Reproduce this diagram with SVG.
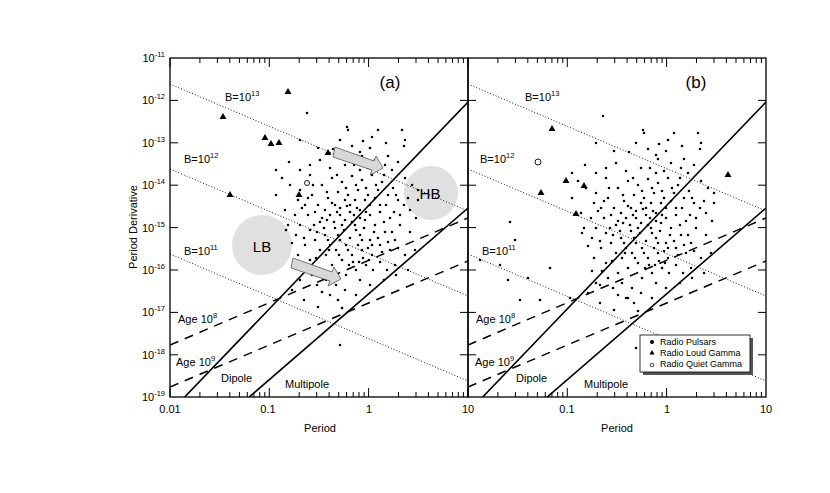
<svg xmlns="http://www.w3.org/2000/svg" xmlns:xlink="http://www.w3.org/1999/xlink" width="830" height="493" viewBox="0 0 830 493">
<style>
text{font-family:"Liberation Sans",Arial,sans-serif;font-size:11px;fill:#000}
.sup{font-size:7.5px}
.frame{fill:none;stroke:#000;stroke-width:1.3}
.dot{fill:none;stroke:#000;stroke-width:2.6;stroke-linecap:round}
.blin{fill:none;stroke:#000;stroke-width:0.9;stroke-dasharray:1,2}
.age{fill:none;stroke:#000;stroke-width:1.5;stroke-dasharray:9,7}
.death{fill:none;stroke:#000;stroke-width:1.6}
.tick{fill:none;stroke:#000;stroke-width:1}
.blob{fill:#e0e0e0}
.arr{fill:#d8d8d8;stroke:#555;stroke-width:0.8}
</style>
<defs>
<clipPath id="cA"><rect x="170" y="58" width="298" height="339"/></clipPath>
<clipPath id="cB"><rect x="468" y="58" width="298" height="339"/></clipPath>
<path id="dec" class="tick" d="M170 397v-9M199.9 397v-5M217.4 397v-5M229.8 397v-5M239.4 397v-5M247.3 397v-5M253.9 397v-5M259.7 397v-5M264.8 397v-5M170 58v9M199.9 58v5M217.4 58v5M229.8 58v5M239.4 58v5M247.3 58v5M253.9 58v5M259.7 58v5M264.8 58v5"/>
<g id="lines">
<path class="blin" d="M170 84L468 211M170 169L468 296M170 254L468 381"/>
<path class="age" d="M170 345L468 218M170 387L468 261"/>
<path class="death" d="M177 405L468 102M240 405L468 208"/>
</g>
<path id="dots" class="dot" d="M307 113h0M348 130h0M333 149h0M340 140h0M318 148h0M347 127h0M378 130h0M402 130h0M405 140h0M404 146h0M388 156h0M362 156h0M352 146h0M363 141h0M370 148h0M360 152h0M375 160h0M385 165h0M392 170h0M360 170h0M345 165h0M330 168h0M320 160h0M310 175h0M300 190h0M298 200h0M290 185h0M282 178h0M276 195h0M285 210h0M295 215h0M305 205h0M312 195h0M322 185h0M332 178h0M342 182h0M352 176h0M362 180h0M372 175h0M382 182h0M393 188h0M405 178h0M412 185h0M418 200h0M410 210h0M398 200h0M388 195h0M378 190h0M368 195h0M358 190h0M348 195h0M338 192h0M328 198h0M318 205h0M308 215h0M300 225h0M310 230h0M320 222h0M330 215h0M340 208h0M350 205h0M360 210h0M370 205h0M380 212h0M390 218h0M400 225h0M410 232h0M395 240h0M385 232h0M375 225h0M365 220h0M355 225h0M345 220h0M335 228h0M325 235h0M315 240h0M305 245h0M298 255h0M310 260h0M320 250h0M330 245h0M340 240h0M350 238h0M360 235h0M370 240h0M380 245h0M390 250h0M372 255h0M362 250h0M352 255h0M342 260h0M332 265h0M322 270h0M312 275h0M326 280h0M336 285h0M346 275h0M356 270h0M366 265h0M380 262h0M395 265h0M405 255h0M415 250h0M338 300h0M322 292h0M342 308h0M318 307h0M340 345h0M355 200h0M365 200h0M375 198h0M345 200h0M335 205h0M325 210h0M315 212h0M302 208h0M296 235h0M292 243h0M288 225h0M304 238h0M314 225h0M324 228h0M334 222h0M344 230h0M354 215h0M364 228h0M374 232h0M384 222h0M394 212h0M404 205h0M416 218h0M346 188h0M356 185h0M366 188h0M376 185h0M386 205h0M396 195h0M366 212h0M356 230h0M346 245h0M336 250h0M326 255h0M316 258h0M306 268h0M328 240h0M338 235h0M348 250h0M358 245h0M368 248h0M378 238h0M388 242h0M398 248h0M353 262h0M363 258h0M373 270h0M360 280h0M345 290h0M330 295h0M317 285h0M300 280h0M296 268h0M308 198h0M313 185h0M327 192h0M337 175h0M354 165h0M368 168h0M384 175h0M398 162h0M289 162h0M276 170h0M286 230h0M292 290h0M304 300h0M356 295h0M370 285h0M384 280h0M396 275h0M408 270h0M340 215h0M350 212h0M360 218h0M370 215h0M380 205h0M332 203h0M322 218h0M342 225h0M352 222h0M362 240h0M372 245h0M382 252h0M392 232h0M400 215h0M408 198h0M418 190h0M300 170h0M310 165h0M372 137h0M386 143h0M300 140h0M357 208h0M347 206h0M337 212h0M327 220h0M317 232h0M329 250h0M339 255h0M349 265h0M359 262h0M369 260h0M387 270h0"/>
</defs>
<rect width="830" height="493" fill="#fff"/>
<g id="panelA">
<circle class="blob" cx="262" cy="245" r="30"/>
<circle class="blob" cx="431" cy="193" r="27"/>
<text x="262" y="252" text-anchor="middle" style="font-size:15px">LB</text>
<text x="430" y="199" text-anchor="middle" style="font-size:15px">HB</text>
<g clip-path="url(#cA)"><use href="#lines"/></g>
<use href="#dots"/>
<path class="arr" d="M335 147L374 161L376 156L383 168L370 175L372 170L333 157Z"/>
<path class="arr" d="M293 258L332 272L334 267L341 279L328 286L330 281L291 268Z"/>
<path d="M223 113l-3.5 6h7zM288 88l-3.5 6h7zM265 134l-3.5 6h7zM271 140l-3.5 6h7zM279 139l-3.5 6h7zM328 149l-3.5 6h7zM230 191l-3.5 6h7zM299 191l-3.5 6h7z" fill="#000"/>
<circle cx="307" cy="183" r="2.5" fill="#fff" stroke="#000" stroke-width="0.9"/>
<text x="390" y="88" text-anchor="middle" style="font-size:17px">(a)</text>
<text x="225" y="101">B=10<tspan class="sup" dy="-5">13</tspan></text>
<text x="184" y="163">B=10<tspan class="sup" dy="-5">12</tspan></text>
<text x="184" y="255">B=10<tspan class="sup" dy="-5">11</tspan></text>
<text x="178" y="323">Age 10<tspan class="sup" dy="-5">8</tspan></text>
<text x="176" y="366">Age 10<tspan class="sup" dy="-5">9</tspan></text>
<text x="221" y="382">Dipole</text>
<text x="285" y="388">Multipole</text>
</g>
<g id="panelB">
<g clip-path="url(#cB)"><use href="#lines" x="298"/></g>
<use href="#dots" x="296" y="3"/>
<path class="dot" d="M515 240h0M510 222h0M500 265h0M480 260h0M508 280h0M528 278h0M550 268h0M520 300h0M540 300h0M570 298h0M600 285h0M628 298h0"/>
<path d="M552 125l-3.5 6h7zM541 189l-3.5 6h7zM566 177l-3.5 6h7zM584 182l-3.5 6h7zM576 210l-3.5 6h7zM728 171l-3.5 6h7z" fill="#000"/>
<circle cx="538" cy="162" r="3" fill="#fff" stroke="#000" stroke-width="0.9"/>
<text x="696" y="88" text-anchor="middle" style="font-size:17px">(b)</text>
<text x="525" y="101">B=10<tspan class="sup" dy="-5">13</tspan></text>
<text x="480" y="163">B=10<tspan class="sup" dy="-5">12</tspan></text>
<text x="482" y="255">B=10<tspan class="sup" dy="-5">11</tspan></text>
<text x="476" y="323">Age 10<tspan class="sup" dy="-5">8</tspan></text>
<text x="475" y="366">Age 10<tspan class="sup" dy="-5">9</tspan></text>
<text x="516" y="382">Dipole</text>
<text x="584" y="388">Multipole</text>
</g>
<g id="legend">
<rect x="643" y="338" width="110" height="37" fill="#555"/>
<rect x="640" y="335" width="110" height="37" fill="#fff" stroke="#000" stroke-width="0.8"/>
<circle cx="652" cy="342" r="2" fill="#000"/>
<path d="M652 350l-2.5 4.5h5z" fill="#000"/>
<circle cx="652" cy="365" r="1.8" fill="#fff" stroke="#000" stroke-width="0.7"/>
<text x="660" y="345" style="font-size:9px">Radio Pulsars</text>
<text x="660" y="356" style="font-size:9px">Radio Loud Gamma</text>
<text x="660" y="367" style="font-size:9px">Radio Quiet Gamma</text>
</g>
<g id="axes">
<rect class="frame" x="170" y="58" width="298" height="339"/>
<rect class="frame" x="468" y="58" width="298" height="339"/>
<use href="#dec"/><use href="#dec" x="99.3"/><use href="#dec" x="198.6"/>
<use href="#dec" x="298"/><use href="#dec" x="397.3"/><use href="#dec" x="496.6"/>
<path class="tick" d="M170 100.4h8M170 142.8h8M170 185.2h8M170 227.6h8M170 270h8M170 312.4h8M170 354.8h8M460 100.4h16M460 142.8h16M460 185.2h16M460 227.6h16M460 270h16M460 312.4h16M460 354.8h16M766 100.4h-8M766 142.8h-8M766 185.2h-8M766 227.6h-8M766 270h-8M766 312.4h-8M766 354.8h-8"/>
<g text-anchor="end">
<text x="165" y="62">10<tspan class="sup" dy="-5">-11</tspan></text>
<text x="165" y="104">10<tspan class="sup" dy="-5">-12</tspan></text>
<text x="165" y="147">10<tspan class="sup" dy="-5">-13</tspan></text>
<text x="165" y="189">10<tspan class="sup" dy="-5">-14</tspan></text>
<text x="165" y="232">10<tspan class="sup" dy="-5">-15</tspan></text>
<text x="165" y="274">10<tspan class="sup" dy="-5">-16</tspan></text>
<text x="165" y="316">10<tspan class="sup" dy="-5">-17</tspan></text>
<text x="165" y="359">10<tspan class="sup" dy="-5">-18</tspan></text>
<text x="165" y="401">10<tspan class="sup" dy="-5">-19</tspan></text>
</g>
<g text-anchor="middle">
<text x="170" y="413">0.01</text><text x="268" y="413">0.1</text><text x="369" y="413">1</text><text x="468" y="413">10</text>
<text x="567" y="413">0.1</text><text x="667" y="413">1</text><text x="766" y="413">10</text>
<text x="320" y="432">Period</text><text x="617" y="432">Period</text>
<text transform="translate(137 227) rotate(-90)">Period Derivative</text>
</g>
</g>
</svg>
